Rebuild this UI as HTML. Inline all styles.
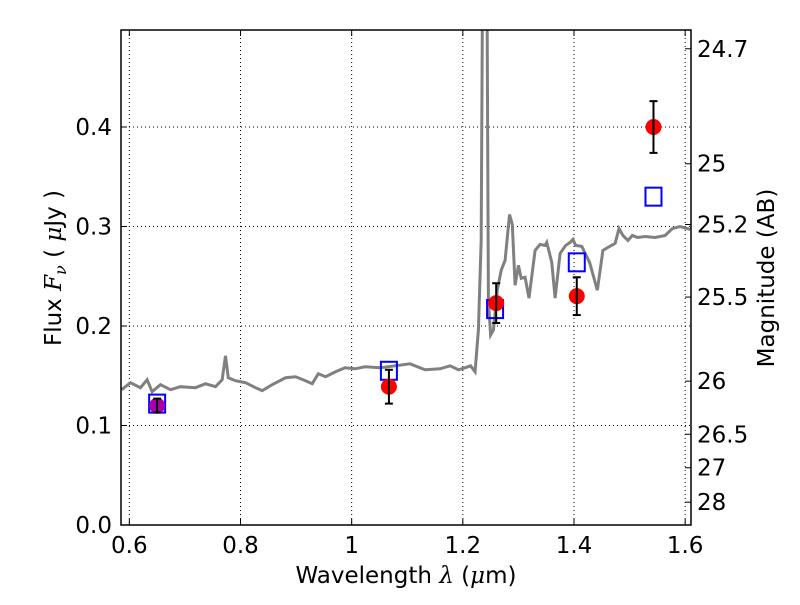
<!DOCTYPE html>
<html><head><meta charset="utf-8"><style>
body{margin:0;background:#fff;}
svg{font-family:"DejaVu Sans","Liberation Sans",sans-serif;}
</style></head><body>
<svg id="c" width="800" height="600"></svg>
<script>
const specLam=[0.586,0.602,0.620,0.632,0.641,0.656,0.674,0.692,0.719,0.737,0.755,0.767,0.773,0.778,0.791,0.809,0.827,0.839,0.857,0.881,0.899,0.917,0.929,0.940,0.953,0.971,0.988,1.006,1.024,1.051,1.078,1.105,1.132,1.159,1.177,1.192,1.204,1.214,1.222,1.228,1.233,1.236,1.243,1.246,1.250,1.255,1.262,1.269,1.276,1.284,1.289,1.294,1.300,1.305,1.312,1.319,1.330,1.339,1.348,1.351,1.360,1.366,1.375,1.385,1.393,1.398,1.403,1.414,1.428,1.442,1.452,1.461,1.474,1.481,1.488,1.497,1.505,1.514,1.528,1.546,1.564,1.577,1.591,1.609];
const specFlux=[0.136,0.143,0.138,0.146,0.134,0.141,0.136,0.139,0.138,0.142,0.139,0.146,0.170,0.148,0.145,0.143,0.138,0.135,0.141,0.148,0.149,0.145,0.142,0.152,0.149,0.154,0.158,0.157,0.159,0.158,0.160,0.162,0.156,0.157,0.160,0.156,0.158,0.160,0.154,0.196,0.286,0.6,0.6,0.226,0.191,0.196,0.236,0.256,0.266,0.312,0.302,0.241,0.261,0.248,0.249,0.228,0.276,0.282,0.281,0.284,0.264,0.228,0.273,0.281,0.284,0.287,0.281,0.280,0.264,0.236,0.276,0.279,0.283,0.298,0.291,0.286,0.291,0.289,0.290,0.289,0.291,0.298,0.300,0.297];
const obsLam=[0.650,1.067,1.260,1.405,1.543];
const obsFlux=[0.120,0.139,0.223,0.230,0.400];
const obsErr=[0.007,0.017,0.020,0.019,0.026];
const modLam=[0.650,1.067,1.258,1.405,1.543];
const modFlux=[0.122,0.155,0.217,0.264,0.330];
const xTicks=[0.6,0.8,1.0,1.2,1.4,1.6];
const xTickLabels=["0.6","0.8","1","1.2","1.4","1.6"];
const yTicks=[0,0.1,0.2,0.3,0.4];
const yTickLabels=["0.0","0.1","0.2","0.3","0.4"];
const magTicks=[24.7,25,25.2,25.5,26,26.5,27,28];

const L=121,R=691,T=30,B=525,xmin=0.585,xmax=1.6105,ymin=0,ymax=0.4975;
const sx=v=>L+(v-xmin)/(xmax-xmin)*(R-L);
const sy=v=>B-(v-ymin)/(ymax-ymin)*(B-T);
const NS="http://www.w3.org/2000/svg";
const svg=document.getElementById('c');
function mk(tag,attrs,parent){const e=document.createElementNS(NS,tag);for(const k in attrs)e.setAttribute(k,attrs[k]);(parent||svg).appendChild(e);return e;}
const defs=mk('defs',{});const cp=mk('clipPath',{id:'clip'},defs);mk('rect',{x:L,y:T,width:R-L,height:B-T},cp);
const FS=23;
xTicks.forEach((v,i)=>{const x=sx(v);
 const g=mk('line',{x1:x,x2:x,y1:T,y2:B,stroke:'#000','stroke-dasharray':'1,3','stroke-width':1});
 
 mk('line',{x1:x,x2:x,y1:B,y2:B-6,stroke:'#000'});mk('line',{x1:x,x2:x,y1:T,y2:T+6,stroke:'#000'});
 const t=mk('text',{x:x,y:B+28,'text-anchor':'middle','font-size':FS});t.textContent=xTickLabels[i];
 });
yTicks.forEach((v,i)=>{const y=sy(v);
 const g=mk('line',{x1:L,x2:R,y1:y,y2:y,stroke:'#000','stroke-dasharray':'1,3','stroke-width':1});
 
 mk('line',{x1:L,x2:L+6,y1:y,y2:y,stroke:'#000'});
 const t=mk('text',{x:L-9,y:y+8,'text-anchor':'end','font-size':FS});t.textContent=yTickLabels[i];
 });
magTicks.forEach(m=>{const y=sy(Math.pow(10,(23.9-m)/2.5));
 mk('line',{x1:R,x2:R-6,y1:y,y2:y,stroke:'#000'});
 const t=mk('text',{x:R+6,y:y+8,'font-size':FS});t.textContent=String(m);
 });
const sp=mk('polyline',{points:specLam.map((l,i)=>sx(l)+','+sy(specFlux[i])).join(' '),fill:'none',stroke:'#808080','stroke-width':3,'clip-path':'url(#clip)'});

modLam.forEach((l,i)=>{const r=mk('rect',{x:sx(l)-8,y:sy(modFlux[i])-9,width:16,height:18,fill:'none',stroke:'#0000ff','stroke-width':2});
 });
obsLam.forEach((l,i)=>{const x=sx(l);
 const c=mk('circle',{cx:x,cy:sy(obsFlux[i]),r:8,fill:i===0?'#aa00aa':'#ff0000'});
 
 const y1=sy(obsFlux[i]+obsErr[i]),y2=sy(obsFlux[i]-obsErr[i]);
 const e=mk('g',{stroke:'#000','stroke-width':2});
 
 mk('line',{x1:x,x2:x,y1:y1,y2:y2},e);mk('line',{x1:x-4,x2:x+4,y1:y1,y2:y1},e);mk('line',{x1:x-4,x2:x+4,y1:y2,y2:y2},e);});
const fr=mk('rect',{x:L,y:T,width:R-L,height:B-T,fill:'none',stroke:'#000','stroke-width':1.5});

const xt=mk('text',{x:406,y:583,'text-anchor':'middle','font-size':FS,'xml:space':'preserve'});
xt.innerHTML='Wavelength  <tspan font-style="italic" font-family="DejaVu Serif">λ</tspan> (<tspan font-style="italic" font-family="DejaVu Serif">μ</tspan>m)';

const yt=mk('text',{x:0,y:0,'text-anchor':'middle','font-size':FS,transform:'translate(61,268) rotate(-90)','xml:space':'preserve'});
yt.innerHTML='Flux  <tspan font-style="italic" font-family="DejaVu Serif">F<tspan font-size="16" dy="5">ν</tspan></tspan><tspan dy="-5">  (  </tspan><tspan font-style="italic" font-family="DejaVu Serif">μ</tspan>Jy )';

const rt=mk('text',{x:0,y:0,'text-anchor':'middle','font-size':FS,transform:'translate(774,278) rotate(-90)'});
rt.textContent='Magnitude (AB)';

</script>
</body></html>
